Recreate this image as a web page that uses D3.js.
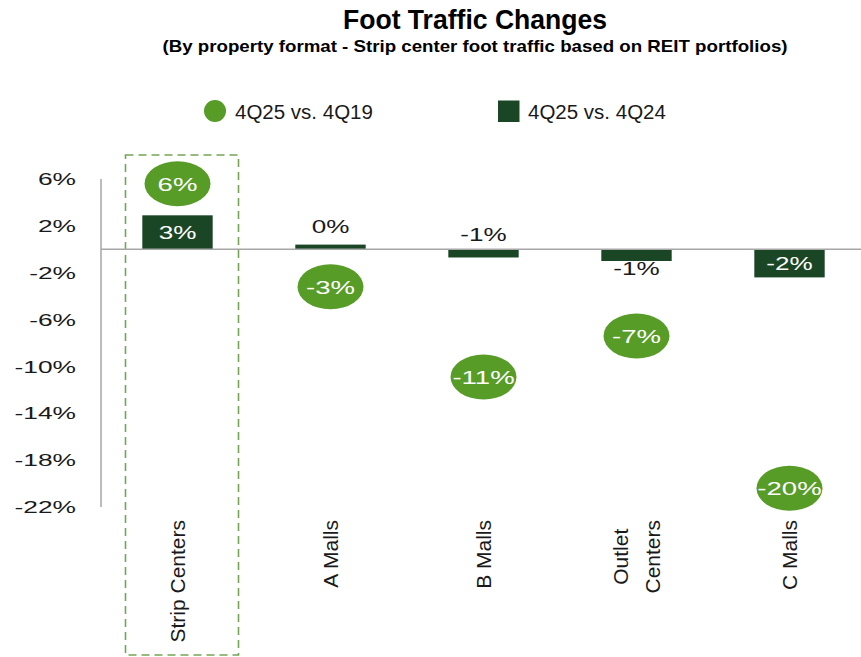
<!DOCTYPE html>
<html>
<head>
<meta charset="utf-8">
<script src="https://cdn.jsdelivr.net/npm/d3@7"></script>
<style>
  body { margin: 0; background: #fff; }
  svg { display: block; font-family: "Liberation Sans", Arial, sans-serif; }
</style>
</head>
<body>
<div id="chart"></div>
<script>
// Foot traffic change by property format (values in %)
const categories = ['Strip Centers', 'A Malls', 'B Malls', 'Outlet Centers', 'C Malls'];
const categoryLines = [['Strip Centers'], ['A Malls'], ['B Malls'], ['Outlet', 'Centers'], ['C Malls']];
const vs4Q19 = [5.6, -3.2, -10.9, -7.4, -20.4];   // bubbles
const vs4Q24 = [2.9, 0.4, -0.7, -1.0, -2.4];      // bars
const yTicks = [6, 2, -2, -6, -10, -14, -18, -22];
const seriesNames = ['4Q25 vs. 4Q19', '4Q25 vs. 4Q24'];
const highlighted = 'Strip Centers';

const width = 861, height = 657;
const bubbleColor = '#569c27';
const barColor = '#1b4626';
const gridGray = '#a6a6a6';
const textDark = '#1a1a1a';
const pct = v => `${Math.round(v)}%`;

const svg = d3.select('#chart').append('svg')
  .attr('width', width)
  .attr('height', height);

// Title
svg.append('text')
  .attr('x', 475).attr('y', 29)
  .attr('text-anchor', 'middle')
  .attr('font-size', 28).attr('font-weight', 'bold')
  .attr('textLength', 264).attr('lengthAdjust', 'spacingAndGlyphs')
  .attr('fill', '#000')
  .text('Foot Traffic Changes');

svg.append('text')
  .attr('x', 475).attr('y', 52)
  .attr('text-anchor', 'middle')
  .attr('font-size', 17).attr('font-weight', 'bold')
  .attr('textLength', 625).attr('lengthAdjust', 'spacingAndGlyphs')
  .attr('fill', '#000')
  .text('(By property format - Strip center foot traffic based on REIT portfolios)');

// Legend
const legend = svg.append('g').attr('transform', 'translate(0,111)');
legend.append('circle').attr('cx', 215).attr('cy', 0).attr('r', 11).attr('fill', bubbleColor);
legend.append('text').attr('x', 235).attr('y', 7.5).attr('font-size', 20.5).attr('fill', textDark).text(seriesNames[0]);
legend.append('rect').attr('x', 498).attr('y', -10.5).attr('width', 21.5).attr('height', 21.5).attr('fill', barColor);
legend.append('text').attr('x', 528).attr('y', 7.5).attr('font-size', 20.5).attr('fill', textDark).text(seriesNames[1]);

// Scales
const x = d3.scaleBand()
  .domain(categories)
  .range([101, 866])
  .paddingInner(0.54)
  .paddingOuter(0.27);

const y = d3.scaleLinear()
  .domain([-22, 6])
  .range([507, 179]);

const cx = c => x(c) + x.bandwidth() / 2;

// Highlight box around strip centers
svg.append('rect')
  .attr('x', cx(highlighted) - 52)
  .attr('y', 155)
  .attr('width', 113)
  .attr('height', 500)
  .attr('fill', 'none')
  .attr('stroke', '#74a556')
  .attr('stroke-width', 1.6)
  .attr('stroke-dasharray', '8,5');

// Y axis line + tick labels
svg.append('line')
  .attr('x1', 101).attr('x2', 101)
  .attr('y1', y(6)).attr('y2', y(-22))
  .attr('stroke', gridGray).attr('stroke-width', 1.5);

svg.append('g').selectAll('text')
  .data(yTicks)
  .join('text')
  .attr('transform', d => `translate(76,${y(d)}) scale(1.55,1)`)
  .attr('dy', '0.36em')
  .attr('text-anchor', 'end')
  .attr('font-size', 17)
  .attr('fill', textDark)
  .text(d => pct(d));

// Bars (4Q25 vs 4Q24)
const barData = categories.map((c, i) => ({ c, v: vs4Q24[i] }));
svg.append('g').selectAll('rect')
  .data(barData)
  .join('rect')
  .attr('x', d => x(d.c))
  .attr('width', x.bandwidth())
  .attr('y', d => y(Math.max(0, d.v)))
  .attr('height', d => Math.abs(y(d.v) - y(0)))
  .attr('fill', barColor);

// Zero line
svg.append('line')
  .attr('x1', 101).attr('x2', width)
  .attr('y1', y(0)).attr('y2', y(0))
  .attr('stroke', gridGray).attr('stroke-width', 1.5);

// Bar labels: inside when tall enough, otherwise next to the bar
const barLabelY = d => {
  if (Math.abs(d.v) >= 2) return (y(d.v) + y(0)) / 2;
  if (d.v >= 0) return y(d.v) - 18;
  if (d.v > -0.85) return y(0) - 15;
  return y(d.v) + 8;
};
svg.append('g').selectAll('text')
  .data(barData)
  .join('text')
  .attr('transform', d => `translate(${cx(d.c)},${barLabelY(d)}) scale(1.45,1)`)
  .attr('dy', '0.36em')
  .attr('text-anchor', 'middle')
  .attr('font-size', 18)
  .attr('fill', d => Math.abs(d.v) >= 2 ? '#fff' : textDark)
  .text(d => pct(d.v));

// Bubbles (4Q25 vs 4Q19)
const bubbleData = categories.map((c, i) => ({ c, v: vs4Q19[i] }));
const bubbles = svg.append('g').selectAll('g')
  .data(bubbleData)
  .join('g')
  .attr('transform', d => `translate(${cx(d.c)},${y(d.v)})`);

bubbles.append('ellipse')
  .attr('rx', 33).attr('ry', 22.5)
  .attr('fill', bubbleColor);

bubbles.append('text')
  .attr('transform', 'scale(1.45,1)')
  .attr('dy', '0.36em')
  .attr('text-anchor', 'middle')
  .attr('font-size', 19)
  .attr('fill', '#fff')
  .text(d => pct(d.v));

// Category labels, rotated, top-aligned at y=520
const catG = svg.append('g').selectAll('g')
  .data(categories.map((c, i) => ({ c, lines: categoryLines[i] })))
  .join('g');

catG.each(function (d) {
  const g = d3.select(this);
  const lh = 32;
  const n = d.lines.length;
  const texts = d.lines.map((line, j) => g.append('text')
    .attr('font-size', 21)
    .attr('fill', textDark)
    .attr('text-anchor', 'middle')
    .text(line));
  const maxLen = d3.max(texts, t => t.node().getComputedTextLength());
  texts.forEach((t, j) => {
    const px = cx(d.c) + (j - (n - 1) / 2) * lh;
    t.attr('transform', `translate(${px},${520 + maxLen / 2}) rotate(-90)`)
      .attr('dy', '0.36em');
  });
});
</script>
</body>
</html>
